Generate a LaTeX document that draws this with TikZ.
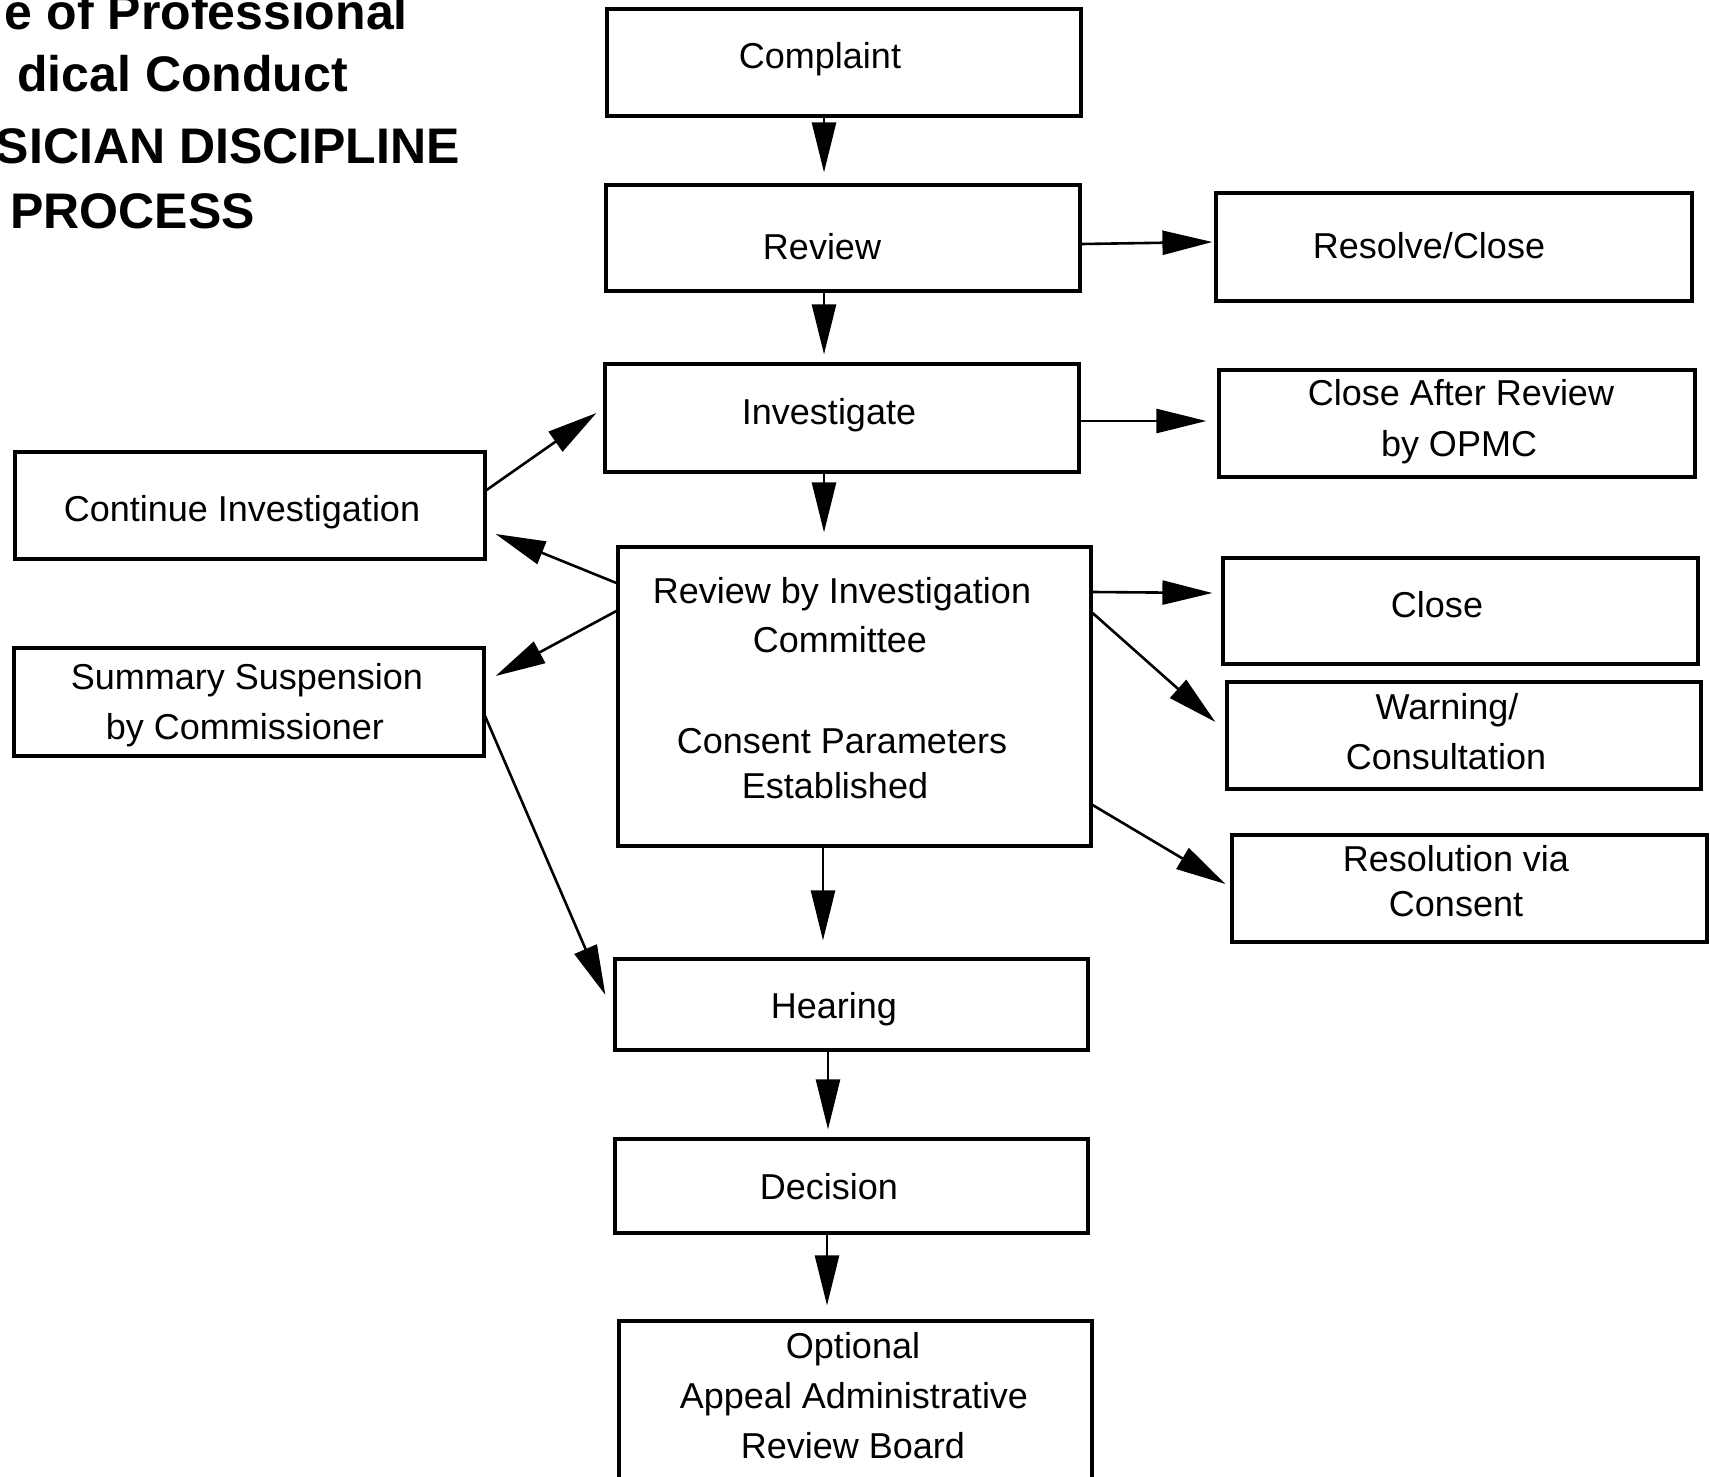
\documentclass[tikz,border=0pt]{standalone}
\usepackage{fontspec}
\setmainfont{Liberation Sans}
\usetikzlibrary{arrows.meta}
\begin{document}
\begin{tikzpicture}[x=1pt,y=-1pt,
  box/.style={draw,line width=3.2pt,inner sep=0pt,rectangle},
  txt/.style={font=\fontsize{36}{46}\selectfont,inner sep=0pt,anchor=base},
  ttl/.style={font=\fontsize{50}{60}\selectfont\bfseries,inner sep=0pt},
  arr/.style={line width=2.6pt,-{Triangle[length=50pt,width=24pt]}}]
\useasboundingbox (0,0) rectangle (1710,1477);
% title
\node[ttl,anchor=base east] (t1) at (408,30) {e of Professional};
\node[ttl,anchor=base east] (t2) at (348,92) {dical Conduct};
\node[ttl,anchor=base east] (t3) at (460,163) {SICIAN DISCIPLINE};
\node[ttl,anchor=base west] (t4) at (10,228) {PROCESS};
% boxes
\node[box,minimum width=474pt,minimum height=107pt] (complaint) at (844,62.5) {};
\node[box,minimum width=474pt,minimum height=106pt] (review) at (843,238) {};
\node[box,minimum width=476pt,minimum height=108pt] (resolve) at (1454,247) {};
\node[box,minimum width=474pt,minimum height=108pt] (investigate) at (842,418) {};
\node[box,minimum width=476pt,minimum height=107pt] (closeafter) at (1457,423.5) {};
\node[box,minimum width=470pt,minimum height=107pt] (continue) at (250,505.5) {};
\node[box,minimum width=470pt,minimum height=108pt] (summary) at (249,702) {};
\node[box,minimum width=473pt,minimum height=299pt] (ric) at (854.5,696.5) {};
\node[box,minimum width=475pt,minimum height=106pt] (close) at (1460.5,611) {};
\node[box,minimum width=474pt,minimum height=107pt] (warning) at (1464,735.5) {};
\node[box,minimum width=475pt,minimum height=107pt] (resolution) at (1469.5,888.5) {};
\node[box,minimum width=473pt,minimum height=91pt] (hearing) at (851.5,1004.5) {};
\node[box,minimum width=473pt,minimum height=94pt] (decision) at (851.5,1186) {};
\node[box,minimum width=473pt,minimum height=199pt] (appeal) at (855.5,1420.5) {};
% texts
\node[txt] (lcomplaint) at (820,69) {Complaint};
\node[txt] (lreview) at (822,259) {Review};
\node[txt] (lresolve) at (1429,258) {Resolve/Close};
\node[txt] (linvestigate) at (829,424) {Investigate};
\node[txt] (lcloseafterA) at (1461,405) {Close After Review};
\node[txt] (lcloseafterB) at (1459,456) {by OPMC};
\node[txt] (lcontinue) at (242,521) {Continue Investigation};
\node[txt] (lsummaryA) at (247,689) {Summary Suspension};
\node[txt] (lsummaryB) at (245,739) {by Commissioner};
\node[txt] (lricA) at (842,603) {Review by Investigation};
\node[txt] (lricB) at (840,652) {Committee};
\node[txt] (lricC) at (842,753) {Consent Parameters};
\node[txt] (lricD) at (835,798) {Established};
\node[txt] (lclose) at (1437,617) {Close};
\node[txt] (lwarningA) at (1447,719) {Warning/};
\node[txt] (lwarningB) at (1446,769) {Consultation};
\node[txt] (lresolutionA) at (1456,871) {Resolution via};
\node[txt] (lresolutionB) at (1456,916) {Consent};
\node[txt] (lhearing) at (834,1018) {Hearing};
\node[txt] (ldecision) at (829,1199) {Decision};
\node[txt] (lappealA) at (853,1358) {Optional};
\node[txt] (lappealB) at (854,1408) {Appeal Administrative};
\node[txt] (lappealC) at (853,1458) {Review Board};
% connectors
\draw[arr] ([xshift=-20pt]complaint.south) -- ([xshift=-19pt,yshift=11pt]review.north);
\draw[arr] ([xshift=-19pt]review.south) -- ([xshift=-18pt,yshift=8pt]investigate.north);
\draw[arr] ([xshift=-18pt]investigate.south) -- ([xshift=-30.5pt,yshift=13pt]ric.north);
\draw[arr] ([xshift=-31.5pt]ric.south) -- ([xshift=-28.5pt,yshift=17pt]hearing.north);
\draw[arr] ([xshift=-23.5pt]hearing.south) -- ([xshift=-23.5pt,yshift=8pt]decision.north);
\draw[arr] ([xshift=-24.5pt]decision.south) -- ([xshift=-28.5pt,yshift=14pt]appeal.north);
\draw[arr] ([yshift=-6pt]review.east) -- ([xshift=-2pt,yshift=5pt]resolve.west);
\draw[arr] ([yshift=-3pt]investigate.east) -- ([xshift=-11pt,yshift=2.5pt]closeafter.west);
\draw[arr] ([yshift=15.5pt]continue.east) -- ([xshift=-7pt,yshift=5pt]investigate.west);
\draw[arr] ([yshift=113.5pt]ric.west) -- ([xshift=9pt,yshift=-28.5pt]continue.east);
\draw[arr] ([yshift=85.5pt]ric.west) -- ([xshift=10pt,yshift=26pt]summary.east);
\draw[arr] ([xshift=-1pt,yshift=-13pt]summary.east) -- ([xshift=-8pt,yshift=9.5pt]hearing.west);
\draw[arr] ([yshift=104.5pt]ric.east) -- ([xshift=-9pt,yshift=18pt]close.west);
\draw[arr] ([yshift=83.5pt]ric.east) -- ([xshift=-10pt,yshift=13.5pt]warning.west);
\draw[arr] ([yshift=-108.5pt]ric.east) -- ([xshift=-5pt,yshift=4.5pt]resolution.west);
\end{tikzpicture}
\end{document}
